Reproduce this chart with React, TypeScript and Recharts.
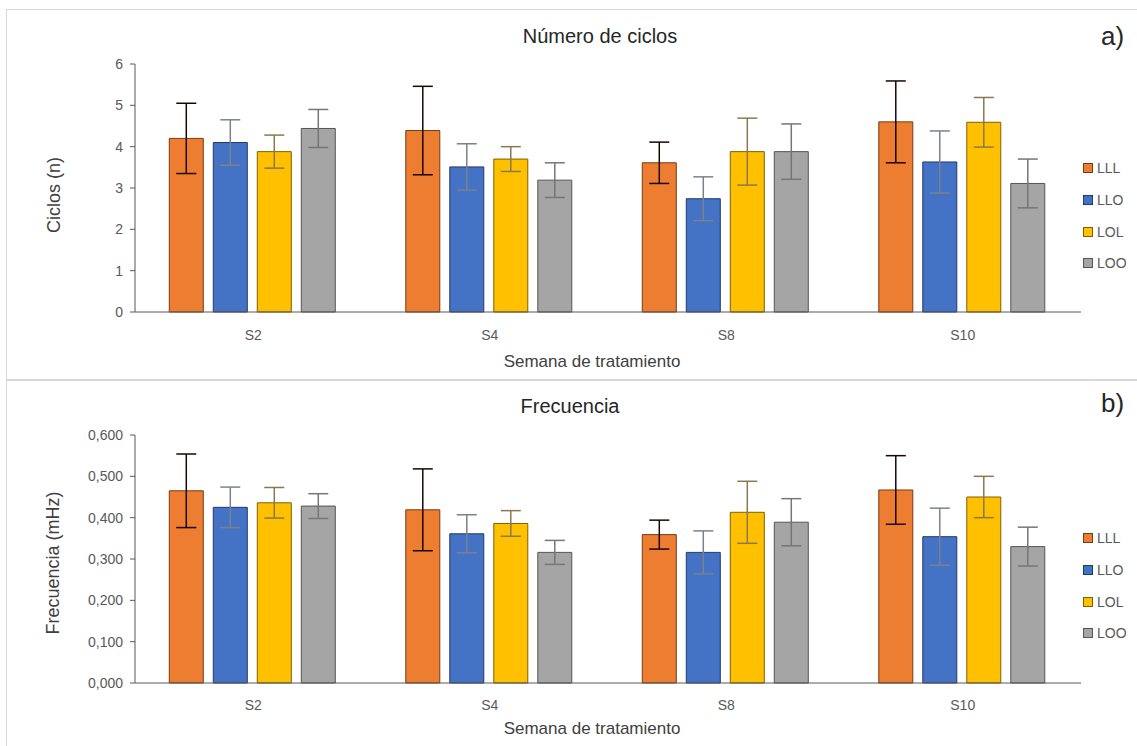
import { BarChart, Bar, XAxis, YAxis, ErrorBar } from 'recharts';

const weeks = ['S2', 'S4', 'S8', 'S10'];
const seriesNames = ['LLL', 'LLO', 'LOL', 'LOO'];
const fills = ['#ED7D31', '#4472C4', '#FFC000', '#A5A5A5'];
const strokes = ['#7a3a12', '#22396b', '#7f6000', '#555555'];
const errColors = ['#1a0505', '#7c818c', '#8a7850', '#767676'];

// Número de ciclos
const ciclosLLL = [4.2, 4.39, 3.61, 4.6];
const ciclosLLO = [4.1, 3.51, 2.74, 3.63];
const ciclosLOL = [3.88, 3.7, 3.88, 4.59];
const ciclosLOO = [4.44, 3.19, 3.88, 3.11];
const ciclosErrLLL = [0.85, 1.07, 0.5, 0.99];
const ciclosErrLLO = [0.55, 0.56, 0.53, 0.75];
const ciclosErrLOL = [0.4, 0.3, 0.81, 0.6];
const ciclosErrLOO = [0.46, 0.42, 0.67, 0.59];
const ciclosTicks = [0, 1, 2, 3, 4, 5, 6];

// Frecuencia (mHz)
const frecLLL = [0.465, 0.419, 0.359, 0.467];
const frecLLO = [0.425, 0.361, 0.316, 0.354];
const frecLOL = [0.436, 0.386, 0.413, 0.45];
const frecLOO = [0.428, 0.316, 0.389, 0.33];
const frecErrLLL = [0.089, 0.099, 0.035, 0.083];
const frecErrLLO = [0.049, 0.046, 0.052, 0.069];
const frecErrLOL = [0.037, 0.031, 0.075, 0.05];
const frecErrLOO = [0.03, 0.029, 0.057, 0.047];
const frecTicks = [0, 0.1, 0.2, 0.3, 0.4, 0.5, 0.6];

const font = '"Liberation Sans", Arial, sans-serif';

function makeRows(means: number[][], errs: number[][]) {
  return weeks.map((week, i) => {
    const row: Record<string, string | number> = { week };
    seriesNames.forEach((s, k) => {
      row[s] = means[k][i];
      row[s + '_err'] = errs[k][i];
    });
    return row;
  });
}

const ciclosRows = makeRows(
  [ciclosLLL, ciclosLLO, ciclosLOL, ciclosLOO],
  [ciclosErrLLL, ciclosErrLLO, ciclosErrLOL, ciclosErrLOO]
);
const frecRows = makeRows(
  [frecLLL, frecLLO, frecLOL, frecLOO],
  [frecErrLLL, frecErrLLO, frecErrLOL, frecErrLOO]
);

const legendTops = [158, 189.5, 221.5, 253];

interface PanelProps {
  top: number;
  height: number;
  marginTop: number;
  marginBottom: number;
  rows: Record<string, string | number>[];
  title: string;
  titleX: number;
  titleTop: number;
  tag: string;
  tagTop: number;
  yLabel: string;
  yLabelX: number;
  yLabelY: number;
  ticks: number[];
  fmt: (v: number) => string;
  xTickMargin: number;
  xLabelOffset: number;
}

function Panel(p: PanelProps) {
  const domainMax = p.ticks[p.ticks.length - 1];
  return (
    <div style={{ position: 'absolute', left: 6, top: p.top, width: 1131, height: p.height }}>
      <BarChart
        width={1131}
        height={p.height}
        data={p.rows}
        margin={{ top: p.marginTop, right: 56, bottom: p.marginBottom, left: 0 }}
        barCategoryGap="14.5%"
        barGap={10}
      >
        <XAxis
          dataKey="week"
          height={60}
          tickLine={false}
          tickSize={0}
          tickMargin={p.xTickMargin}
          axisLine={{ stroke: '#595959' }}
          tick={{ fill: '#595959', fontSize: 14, fontFamily: font }}
          label={{
            value: 'Semana de tratamiento',
            position: 'insideBottom',
            offset: p.xLabelOffset,
            dx: -16,
            fill: '#404040',
            fontSize: 17,
            fontFamily: font,
          }}
        />
        <YAxis
          width={129}
          domain={[0, domainMax]}
          ticks={p.ticks}
          interval={0}
          tickSize={5}
          tickMargin={7}
          tickLine={{ stroke: '#595959' }}
          axisLine={{ stroke: '#595959' }}
          tick={{ fill: '#595959', fontSize: 14, fontFamily: font }}
          tickFormatter={p.fmt}
          label={{
            value: p.yLabel,
            content: () => (
              <text
                x={p.yLabelX}
                y={p.yLabelY}
                transform={`rotate(-90, ${p.yLabelX}, ${p.yLabelY})`}
                textAnchor="middle"
                dominantBaseline="middle"
                fill="#404040"
                fontSize={18}
                fontFamily={font}
              >
                {p.yLabel}
              </text>
            ),
          }}
        />
        {seriesNames.map((s, k) => (
          <Bar
            key={s}
            dataKey={s}
            fill={fills[k]}
            stroke={strokes[k]}
            strokeWidth={1}
            isAnimationActive={false}
          >
            <ErrorBar dataKey={s + '_err'} width={10} stroke={errColors[k]} strokeWidth={1.5} />
          </Bar>
        ))}
      </BarChart>
      <div
        style={{
          position: 'absolute',
          left: p.titleX,
          top: p.titleTop,
          transform: 'translateX(-50%)',
          fontFamily: font,
          fontSize: 20,
          lineHeight: '20px',
          color: '#262626',
          whiteSpace: 'nowrap',
        }}
      >
        {p.title}
      </div>
      <div
        style={{
          position: 'absolute',
          left: 1095,
          top: p.tagTop,
          fontFamily: font,
          fontSize: 26,
          lineHeight: '26px',
          color: '#262626',
        }}
      >
        {p.tag}
      </div>
      {seriesNames.map((s, k) => (
        <div
          key={s}
          style={{
            position: 'absolute',
            left: 1077,
            top: legendTops[k] - 8,
            height: 16,
            display: 'flex',
            alignItems: 'center',
            fontFamily: font,
            fontSize: 14,
            color: '#595959',
          }}
        >
          <span
            style={{
              display: 'inline-block',
              width: 8,
              height: 8,
              background: fills[k],
              border: `1px solid ${strokes[k]}`,
              marginRight: 4,
            }}
          />
          {s}
        </div>
      ))}
    </div>
  );
}

const fmtCiclos = (v: number) => String(v);
const fmtFrec = (v: number) => v.toFixed(3).replace('.', ',');

export default function App() {
  return (
    <div
      style={{
        position: 'absolute',
        left: 0,
        top: 0,
        width: 1137,
        height: 746,
        overflow: 'hidden',
        background: '#fff',
      }}
    >
      <div style={{ position: 'absolute', left: 6, top: 9, width: 1140, height: 369, border: '1px solid #d9d9d9' }} />
      <div style={{ position: 'absolute', left: 6, top: 380, width: 1140, height: 380, border: '1px solid #d9d9d9' }} />
      <Panel
        top={10}
        height={368}
        marginTop={54}
        marginBottom={6}
        rows={ciclosRows}
        title="Número de ciclos"
        titleX={594}
        titleTop={16}
        tag="a)"
        tagTop={13}
        yLabel="Ciclos (n)"
        yLabelX={49}
        yLabelY={185}
        ticks={ciclosTicks}
        fmt={fmtCiclos}
        xTickMargin={18}
        xLabelOffset={5}
      />
      <Panel
        top={380}
        height={366}
        marginTop={55}
        marginBottom={3}
        rows={frecRows}
        title="Frecuencia"
        titleX={564}
        titleTop={16}
        tag="b)"
        tagTop={10}
        yLabel="Frecuencia (mHz)"
        yLabelX={48}
        yLabelY={183}
        ticks={frecTicks}
        fmt={fmtFrec}
        xTickMargin={17}
        xLabelOffset={9}
      />
    </div>
  );
}
